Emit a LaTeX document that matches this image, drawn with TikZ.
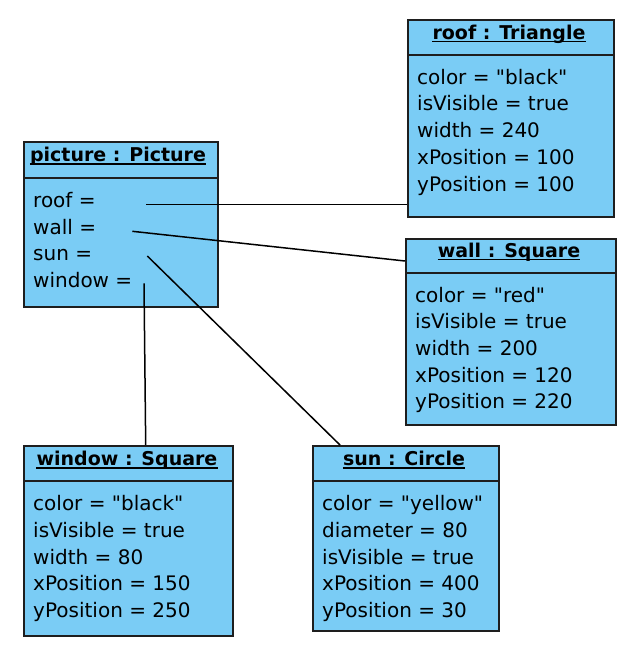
\documentclass[tikz,border=0pt]{standalone}
\usepackage{fontspec}
\setmainfont{DejaVu Sans}
\definecolor{objfill}{RGB}{122,204,245}
\definecolor{objline}{RGB}{30,30,30}
\newcommand{\dq}{\textquotedbl}
\tikzset{
  objbox/.style={draw=objline, line width=1.8pt, fill=objfill, rectangle, inner sep=0pt, anchor=north west},
  sepline/.style={draw=objline, line width=1.7pt},
  objtitle/.style={inner xsep=0pt, inner ysep=0pt, anchor=base, font=\bfseries\fontsize{19}{23}\selectfont},
  ulin/.style={draw=black, line width=1.5pt},
  attr/.style={inner sep=0pt, anchor=base west, font=\fontsize{20}{24}\selectfont},
  link/.style={draw=black, line width=1.5pt}
}
\begin{document}
\begin{tikzpicture}[x=1pt,y=-1pt]
\useasboundingbox (0,0) rectangle (630,647);

% ---- picture : Picture
\node[objbox, minimum width=194pt, minimum height=165pt] (picture) at (23,141) {};
\draw[sepline] ([yshift=-37.3pt]picture.north west) -- ([yshift=-37.3pt]picture.north east);
\node[objtitle] (picturet) at (118,161.7) {picture : Picture};
\draw[ulin] ([yshift=-2.3pt]picturet.base west) -- ([yshift=-2.3pt]picturet.base east);
\node[attr] (pa1) at (33,207.3) {roof =};
\node[attr] (pa2) at (33,234.0) {wall =};
\node[attr] (pa3) at (33,260.8) {sun =};
\node[attr] (pa4) at (33,287.6) {window =};

% ---- roof : Triangle
\node[objbox, minimum width=206pt, minimum height=197pt] (roof) at (407,19) {};
\draw[sepline] ([yshift=-36pt]roof.north west) -- ([yshift=-36pt]roof.north east);
\node[objtitle] (rooft) at (509,39.3) {roof : Triangle};
\draw[ulin] ([yshift=-2.3pt]rooft.base west) -- ([yshift=-2.3pt]rooft.base east);
\node[attr] (ra1) at (417,84.3) {color = \dq black\dq};
\node[attr] (ra2) at (417,111.0) {isVisible = true};
\node[attr] (ra3) at (417,137.7) {width = 240};
\node[attr] (ra4) at (417,164.4) {xPosition = 100};
\node[attr] (ra5) at (417,191.1) {yPosition = 100};

% ---- wall : Square
\node[objbox, minimum width=210pt, minimum height=186pt] (wall) at (405,238) {};
\draw[sepline] ([yshift=-34.7pt]wall.north west) -- ([yshift=-34.7pt]wall.north east);
\node[objtitle] (wallt) at (509,257.2) {wall : Square};
\draw[ulin] ([yshift=-2.3pt]wallt.base west) -- ([yshift=-2.3pt]wallt.base east);
\node[attr] (wa1) at (415,302.0) {color = \dq red\dq};
\node[attr] (wa2) at (415,328.7) {isVisible = true};
\node[attr] (wa3) at (415,355.4) {width = 200};
\node[attr] (wa4) at (415,382.1) {xPosition = 120};
\node[attr] (wa5) at (415,408.8) {yPosition = 220};

% ---- window : Square
\node[objbox, minimum width=209pt, minimum height=190pt] (window) at (23,445) {};
\draw[sepline] ([yshift=-36.3pt]window.north west) -- ([yshift=-36.3pt]window.north east);
\node[objtitle] (windowt) at (127,465.5) {window : Square};
\draw[ulin] ([yshift=-2.3pt]windowt.base west) -- ([yshift=-2.3pt]windowt.base east);
\node[attr] (na1) at (33,510.6) {color = \dq black\dq};
\node[attr] (na2) at (33,537.3) {isVisible = true};
\node[attr] (na3) at (33,564.0) {width = 80};
\node[attr] (na4) at (33,590.7) {xPosition = 150};
\node[attr] (na5) at (33,617.4) {yPosition = 250};

% ---- sun : Circle
\node[objbox, minimum width=186pt, minimum height=185pt] (sun) at (312,445) {};
\draw[sepline] ([yshift=-36.3pt]sun.north west) -- ([yshift=-36.3pt]sun.north east);
\node[objtitle] (sunt) at (404,465.5) {sun : Circle};
\draw[ulin] ([yshift=-2.3pt]sunt.base west) -- ([yshift=-2.3pt]sunt.base east);
\node[attr] (sa1) at (322,510.6) {color = \dq yellow\dq};
\node[attr] (sa2) at (322,537.3) {diameter = 80};
\node[attr] (sa3) at (322,564.0) {isVisible = true};
\node[attr] (sa4) at (322,590.7) {xPosition = 400};
\node[attr] (sa5) at (322,617.4) {yPosition = 30};

% ---- reference connectors
\coordinate (roofstart) at (146,204.3);
\coordinate (wallstart) at (132.3,231.3);
\coordinate (sunstart) at (147.3,256);
\coordinate (winstart) at (144,283.3);
\coordinate (wallend) at (405,261);
\coordinate (sunend) at (340,445);
\coordinate (winend) at (145.7,445);

\draw[link] (roofstart) -- (roof.west |- roofstart);
\draw[link] (wallstart) -- (wallend);
\draw[link] (sunstart) -- (sunend);
\draw[link] (winstart) -- (winend);
\end{tikzpicture}
\end{document}
